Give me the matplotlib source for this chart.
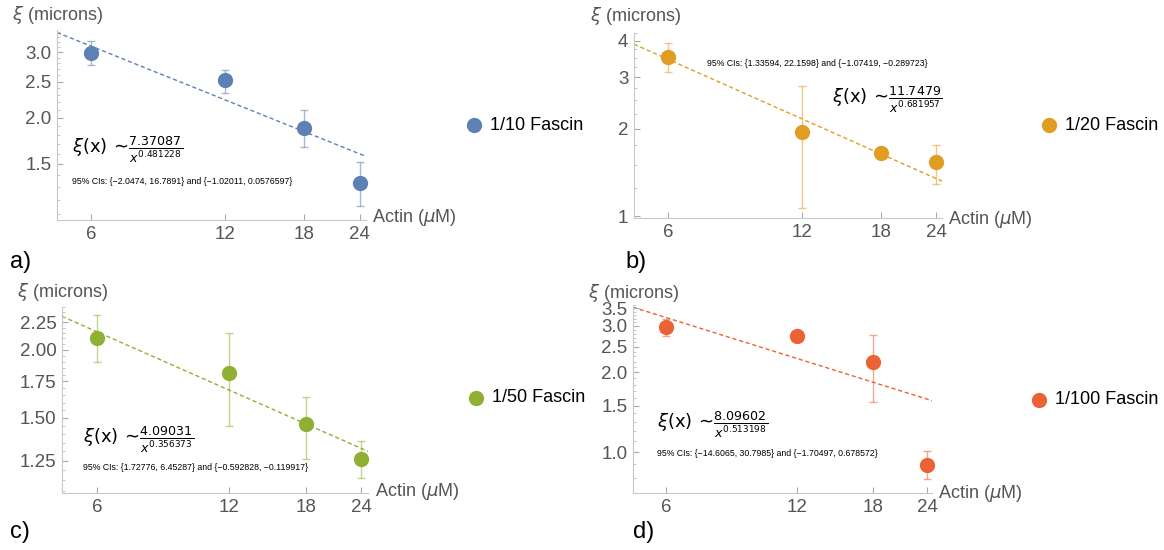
import numpy as np
import matplotlib.pyplot as plt
from matplotlib.lines import Line2D
from matplotlib.ticker import FixedLocator, FixedFormatter, NullFormatter

plt.rcParams['font.family'] = ['Liberation Sans', 'DejaVu Sans']
plt.rcParams['mathtext.fontset'] = 'dejavusans'

W, H = 1164, 550

actin = [6, 12, 18, 24]

# measured correlation length (microns) and error bar ends, per fascin ratio
labels = ['1/10 Fascin', '1/20 Fascin', '1/50 Fascin', '1/100 Fascin']
colors = ['#5E81B5', '#E19C24', '#8FB032', '#EB6235']
xi_10 = [2.98, 2.52, 1.88, 1.33]
lo_10 = [2.77, 2.33, 1.67, 1.155]
hi_10 = [3.21, 2.69, 2.09, 1.52]
xi_20 = [3.52, 1.94, 1.65, 1.53]
lo_20 = [3.12, 1.07, 1.65, 1.29]
hi_20 = [3.93, 2.79, 1.65, 1.75]
xi_50 = [2.10, 1.81, 1.46, 1.26]
lo_50 = [1.90, 1.45, 1.26, 1.16]
hi_50 = [2.32, 2.15, 1.64, 1.36]
xi_100 = [2.98, 2.75, 2.19, 0.89]
lo_100 = [2.75, 2.75, 1.55, 0.79]
hi_100 = [3.19, 2.75, 2.77, 1.01]

# power law fits xi(x) ~ a / x^b
fit_a = [7.37087, 11.7479, 4.09031, 8.09602]
fit_b = [0.481228, 0.681957, 0.356373, 0.513198]
ci_text = ['95% CIs: {\u22122.0474, 16.7891} and {\u22121.02011, 0.0576597}',
           '95% CIs: {1.33594, 22.1598} and {\u22121.07419, \u22120.289723}',
           '95% CIs: {1.72776, 6.45287} and {\u22120.592828, \u22120.119917}',
           '95% CIs: {\u221214.6065, 30.7985} and {\u22121.70497, 0.678572}']

yticks = [[1.5, 2.0, 2.5, 3.0], [1, 2, 3, 4],
          [1.25, 1.50, 1.75, 2.00, 2.25], [1.0, 1.5, 2.0, 2.5, 3.0, 3.5]]
ytick_labels = [['1.5', '2.0', '2.5', '3.0'], ['1', '2', '3', '4'],
                ['1.25', '1.50', '1.75', '2.00', '2.25'],
                ['1.0', '1.5', '2.0', '2.5', '3.0', '3.5']]
yminor = [np.arange(1.1, 3.45, 0.1), np.arange(1.0, 4.3, 0.25),
          np.arange(1.1, 2.41, 0.05), np.arange(0.7, 3.61, 0.1)]
ylims = [(1.06, 3.44), (0.985, 4.26), (1.09, 2.40), (0.70, 3.6)]
xlims = [(5.03, 24.8), (5.04, 24.7), (4.99, 24.9), (5.04, 24.6)]

# layout in pixels
rects = [(57, 30, 366, 220), (634, 33, 942, 218), (62, 307, 368, 493), (633, 305, 932, 493)]
ylab_pos = [(12, 15), (590, 16), (17, 292), (588, 293)]
xlab_pos = [(372, 218), (948, 220), (375, 492), (938, 493)]
leg_pos = [(474, 125), (1049, 125), (476, 398), (1039, 400)]
panel_pos = [(10, 262), (625, 262), (10, 532), (633, 532)]
panel_txt = ['a)', 'b)', 'c)', 'd)']
formula_pos = [(72, 150), (832, 100), (83, 440), (657, 425)]
ci_pos = [(72, 181), (707, 64), (83, 468), (657, 453)]

xi_all = [xi_10, xi_20, xi_50, xi_100]
lo_all = [lo_10, lo_20, lo_50, lo_100]
hi_all = [hi_10, hi_20, hi_50, hi_100]

fig = plt.figure(figsize=(W / 100, H / 100), dpi=100)
gray = '#555555'

for i in range(4):
    l, t, r, b = rects[i]
    ax = fig.add_axes([l / W, 1 - b / H, (r - l) / W, (b - t) / H])
    c = colors[i]
    x = np.array(actin, dtype=float)
    y = np.array(xi_all[i])
    yerr = [y - np.array(lo_all[i]), np.array(hi_all[i]) - y]
    eb = ax.errorbar(x, y, yerr=yerr, fmt='none', ecolor=c, alpha=0.55, elinewidth=1,
                     capsize=3, capthick=1, zorder=2)
    for art in eb.lines[1] + eb.lines[2]:
        art.set_clip_on(False)
    ax.plot(x, y, 'o', color=c, markersize=11, markeredgewidth=0, zorder=3, clip_on=False)
    xx = np.geomspace(xlims[i][0], xlims[i][1], 100)
    ax.plot(xx, fit_a[i] / xx ** fit_b[i], color=c, lw=1, dashes=(3, 2), zorder=1)

    ax.set_xscale('log')
    ax.set_yscale('log')
    ax.set_xlim(*xlims[i])
    ax.set_ylim(*ylims[i])
    ax.xaxis.set_major_locator(FixedLocator(actin))
    ax.xaxis.set_major_formatter(FixedFormatter([str(v) for v in actin]))
    ax.xaxis.set_minor_locator(FixedLocator([]))
    ax.xaxis.set_minor_formatter(NullFormatter())
    ax.yaxis.set_major_locator(FixedLocator(yticks[i]))
    ax.yaxis.set_major_formatter(FixedFormatter(ytick_labels[i]))
    ax.yaxis.set_minor_locator(FixedLocator(yminor[i]))
    ax.yaxis.set_minor_formatter(NullFormatter())
    for s in ['top', 'right']:
        ax.spines[s].set_visible(False)
    for s in ['left', 'bottom']:
        ax.spines[s].set_color('#c8c8c8')
    ax.tick_params(which='major', direction='in', length=4, color='#aaaaaa',
                   labelsize=13.5, labelcolor=gray, pad=4)
    ax.tick_params(which='minor', direction='in', length=2, color='#bbbbbb')

    fig.text(ylab_pos[i][0] / W, 1 - ylab_pos[i][1] / H, r'$\xi$ (microns)',
             fontsize=13, color=gray, ha='left', va='center')
    fig.text(xlab_pos[i][0] / W, 1 - xlab_pos[i][1] / H, r'Actin ($\mu$M)',
             fontsize=13, color=gray, ha='left', va='center')
    fig.text(panel_pos[i][0] / W, 1 - panel_pos[i][1] / H, panel_txt[i],
             fontsize=17, ha='left', va='center')
    fig.text(formula_pos[i][0] / W, 1 - formula_pos[i][1] / H,
             r'$\xi(\mathrm{x})\,\sim\!\frac{\mathrm{%s}}{x^{\mathrm{%s}}}$' % (fit_a[i], fit_b[i]),
             fontsize=13, ha='left', va='center')
    fig.text(ci_pos[i][0] / W, 1 - ci_pos[i][1] / H, ci_text[i],
             fontsize=6.3, ha='left', va='center')

    mx, my = leg_pos[i]
    fig.add_artist(Line2D([mx / W], [1 - my / H], marker='o', color=c,
                          markersize=11, markeredgewidth=0, linestyle='none'))
    fig.text((mx + 16) / W, 1 - my / H, labels[i], fontsize=13, ha='left', va='center')

fig.savefig('out.png', dpi=100)
